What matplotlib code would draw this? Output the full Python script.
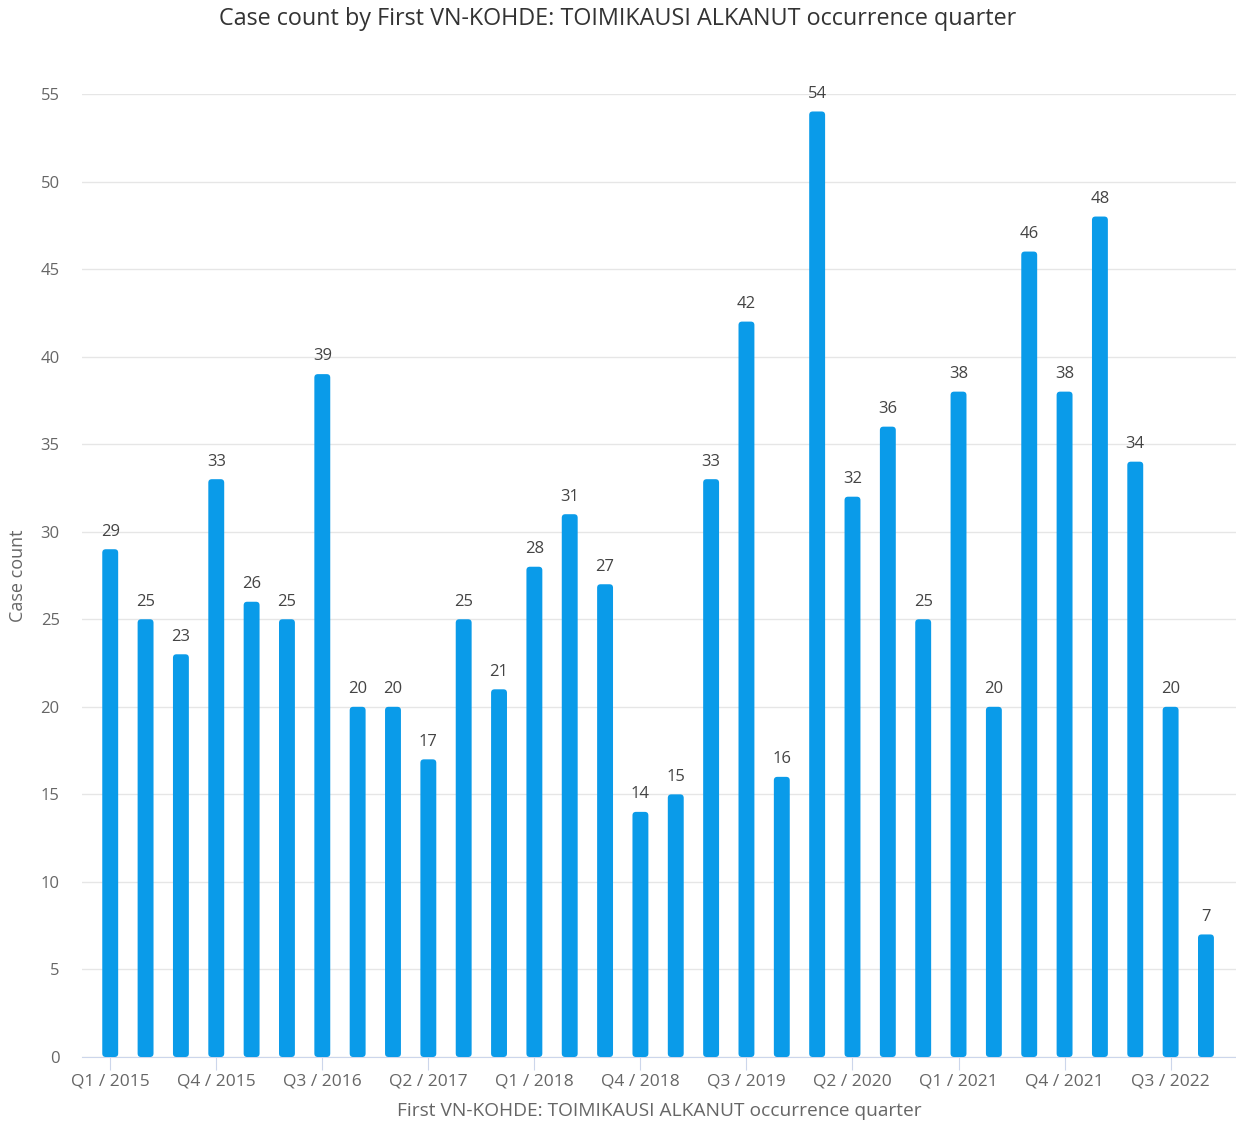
import matplotlib.pyplot as plt
import numpy as np
from matplotlib.patches import FancyBboxPatch

plt.rcParams['font.family'] = ['Open Sans', 'DejaVu Sans']

# Data
quarters = [f'Q{q} / {y}' for y in range(2015, 2023) for q in range(1, 5)]
counts = [29, 25, 23, 33, 26, 25, 39, 20, 20, 17, 25, 21, 28, 31, 27, 14,
          15, 33, 42, 16, 54, 32, 36, 25, 38, 20, 46, 38, 48, 34, 20, 7]
tick_every = 3

bar_color = '#0a9be9'
text_gray = '#666666'

fig = plt.figure(figsize=(12.36, 11.24), dpi=100)
ax = fig.add_axes([0.0663, 0.0596, 0.9337, 0.8568])

x = np.arange(len(quarters))
bars = ax.bar(x, counts, 0.45, color=bar_color, zorder=3)

# swap the plain bars for slightly rounded ones
for b in bars:
    b.set_visible(False)
    p = FancyBboxPatch((b.get_x(), 0), b.get_width(), b.get_height(),
                       boxstyle='round,pad=0,rounding_size=0.1',
                       mutation_aspect=2.0, facecolor=bar_color,
                       edgecolor='none', zorder=3)
    ax.add_patch(p)

# value labels
for xi, v in zip(x, counts):
    ax.text(xi, v + 0.55, str(v), ha='center', va='bottom',
            fontsize=12, color='#444444')

ax.set_xlim(-0.8, len(quarters) - 0.15)
ax.set_ylim(0, 55)
ax.set_yticks(range(0, 56, 5))
ax.set_xticks(x[::tick_every])
ax.set_xticklabels(quarters[::tick_every])

ax.grid(axis='y', color='#e6e6e6', linewidth=1, zorder=0)
for s in ['top', 'right', 'left']:
    ax.spines[s].set_visible(False)
ax.spines['bottom'].set_color('#ccd6eb')
ax.tick_params(axis='y', length=0, labelsize=12, labelcolor=text_gray, pad=16)
ax.tick_params(axis='x', length=9, color='#ccd6eb', labelsize=12.5,
               labelcolor=text_gray, pad=3)

ax.set_ylabel('Case count', fontsize=13, color=text_gray)
ax.yaxis.set_label_coords(-0.048, 0.5)
ax.set_xlabel('First VN-KOHDE: TOIMIKAUSI ALKANUT occurrence quarter',
              fontsize=13.8, color=text_gray, labelpad=9)
fig.text(0.5, 0.983, 'Case count by First VN-KOHDE: TOIMIKAUSI ALKANUT occurrence quarter',
         ha='center', va='center', fontsize=16.8, color='#333333')

fig.savefig('out.png', dpi=100)
